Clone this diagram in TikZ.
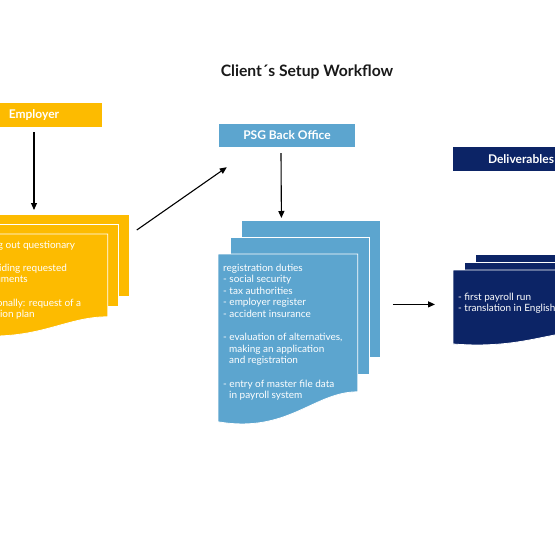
\documentclass[tikz,border=0pt]{standalone}
\usepackage{fontspec}
\setmainfont{Lato}
\usepackage{xcolor}
\usetikzlibrary{arrows.meta}
\definecolor{psgyellow}{HTML}{FDBB00}
\definecolor{psgblue}{HTML}{5CA5CF}
\definecolor{psgnavy}{HTML}{0C2466}

\begin{document}
\begin{tikzpicture}[x=1pt,y=-1pt,
  every node/.style={font=\fontsize{10}{11.6}\selectfont},
  header/.style={minimum width=136pt,minimum height=24pt,inner sep=0pt,text=white,font=\fontsize{12}{14}\selectfont\bfseries},
  page/.style={draw=white,line width=0.8pt,minimum width=139pt,inner sep=0pt,anchor=north west},
  pagetext/.style={text=white,anchor=north west,inner sep=0pt,align=left},
  flow/.style={-{Triangle[length=7pt,width=6pt]},line width=1.1pt}]
\useasboundingbox (0,0) rectangle (555,555);
\clip (0,0) rectangle (555,555);
\node[font=\fontsize{15.7}{18}\selectfont\bfseries,text=black!90] (title) at (307,72) {Client´s Setup Workflow};
% header boxes
\node[header,fill=psgyellow] (employer) at (34,115) {Employer};
\node[header,fill=psgblue,minimum height=23pt] (psg) at (287,135.5) {PSG Back Office};
\node[header,fill=psgnavy] (deliv) at (521,159) {Deliverables};
% employer documents
\node[page,fill=psgyellow,minimum height=82pt] (yellowback) at (-10,214) {};
\node[page,fill=psgyellow,minimum height=82pt] (yellowmid) at (-21,224) {};
\node[page,draw=none,minimum height=82pt] (yellowfront) at (-32,234) {};
\fill[psgyellow,draw=white,line width=0.8pt] (yellowfront.north west) -- (yellowfront.north east) -- (yellowfront.south east)
  .. controls +(-44,0) and +(70,7.2) .. ([yshift=-18pt]yellowfront.south west) -- cycle;
\node[pagetext] (yellowtext) at ([xshift=5pt,yshift=-6.5pt]yellowfront.north west) {- filling out questionary\\[11.6pt]
- providing requested\\
\hspace*{6pt}documents\\[11.6pt]
- optionally: request of a\\
\hspace*{6pt}pension plan};
% back office documents
\node[page,fill=psgblue,minimum height=137pt] (blueback) at (241,220) {};
\node[page,fill=psgblue,minimum height=137pt] (bluemid) at (229.5,237) {};
\node[page,draw=none,minimum height=137pt] (bluefront) at (218,254) {};
\fill[psgblue,draw=white,line width=0.8pt] (bluefront.north west) -- (bluefront.north east) -- (bluefront.south east)
  .. controls +(-44,0) and +(70,12) .. ([yshift=-30pt]bluefront.south west) -- cycle;
\node[pagetext] (bluetext) at ([xshift=5pt,yshift=-9.5pt]bluefront.north west) {registration duties\\
- social security\\
- tax authorities\\
- employer register\\
- accident insurance\\[11.6pt]
- evaluation of alternatives,\\
\hspace*{6pt}making an application\\
\hspace*{6pt}and registration\\[11.6pt]
- entry of master file data\\
\hspace*{6pt}in payroll system};
% deliverables documents
\node[page,fill=psgnavy,minimum height=60pt] (navyback) at (475,254) {};
\node[page,fill=psgnavy,minimum height=60pt] (navymid) at (464,262) {};
\node[page,draw=none,minimum height=60pt] (navyfront) at (453,270) {};
\fill[psgnavy,draw=white,line width=0.8pt] (navyfront.north west) -- (navyfront.north east) -- (navyfront.south east)
  .. controls +(-44,0) and +(70,5.3) .. ([yshift=-13.2pt]navyfront.south west) -- cycle;
\node[pagetext] (navytext) at ([xshift=5pt,yshift=-22.5pt]navyfront.north west) {- first payroll run\\
- translation in English};
% connectors
\draw[flow,shorten <=5pt,shorten >=4pt] (employer.south) -- (employer.south |- yellowback.north);
\draw[flow] ([xshift=7pt,yshift=-16pt]yellowback.north east) -- ([xshift=8pt,yshift=-20pt]psg.south west);
\draw[flow] ([xshift=-6pt,yshift=-6pt]psg.south) -- ([xshift=-29.5pt,yshift=2pt]blueback.north);
\draw[flow] ([xshift=12pt,yshift=-15.5pt]blueback.east) -- ([xshift=-18pt,yshift=-4pt]navyfront.west);
\end{tikzpicture}
\end{document}
